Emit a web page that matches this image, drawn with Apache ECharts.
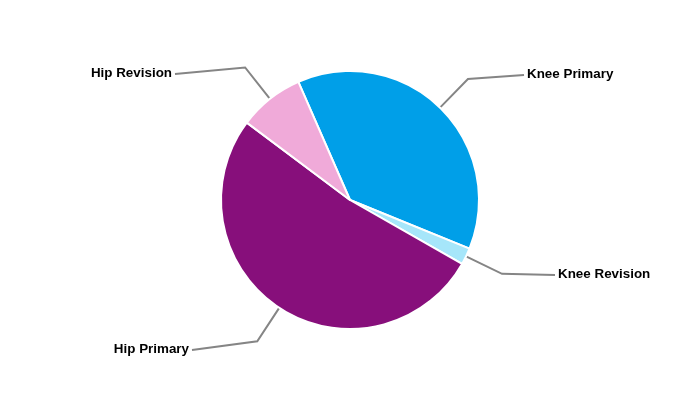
<!DOCTYPE html>
<html>
<head>
<meta charset="utf-8">
<script src="https://cdn.jsdelivr.net/npm/echarts@6/dist/echarts.min.js"></script>
<style>
  html, body { margin: 0; padding: 0; background: #fff; }
  #chart { width: 700px; height: 400px; }
</style>
</head>
<body>
<div id="chart"></div>
<script>
// ---- data ----
const categories = ['Knee Primary', 'Knee Revision', 'Hip Primary', 'Hip Revision'];
const values = [37.7, 2.1, 52.0, 8.2];
const colors = ['#009FE8', '#A6E6FA', '#870F7B', '#F0AAD9'];

const chart = echarts.init(document.getElementById('chart'));

// label placement (layout, not data)
const labelPlacement = {
  'Knee Primary':  { x: 527, y: 74,  align: 'left'  },
  'Knee Revision': { x: 558, y: 274, align: 'left'  },
  'Hip Primary':   { x: 189, y: 349, align: 'right' },
  'Hip Revision':  { x: 172, y: 73,  align: 'right' }
};
const lineLen1 = 40;

const option = {
  animation: false,
  backgroundColor: '#ffffff',
  series: [{
    type: 'pie',
    center: ['50%', '50%'],
    radius: 129,
    startAngle: 113.6,
    clockwise: true,
    avoidLabelOverlap: false,
    data: categories.map((c, i) => ({ name: c, value: values[i], itemStyle: { color: colors[i] } })),
    itemStyle: { borderColor: '#ffffff', borderWidth: 2 },
    label: {
      show: true,
      position: 'outside',
      formatter: '{b}',
      color: '#000000',
      fontFamily: 'Liberation Sans, Arial, sans-serif',
      fontWeight: 'bold',
      fontSize: 13.4
    },
    labelLine: {
      show: true,
      length: lineLen1,
      length2: 0,
      lineStyle: { color: '#858585', width: 2 }
    },
    labelLayout: function (params) {
      const name = categories[params.dataIndex];
      const p = labelPlacement[name];
      const pts = params.labelLinePoints;
      const cx = chart.getWidth() / 2, cy = chart.getHeight() / 2;
      const p0 = pts[0];
      const dx = p0[0] - cx, dy = p0[1] - cy;
      const d = Math.sqrt(dx * dx + dy * dy);
      const p1 = [cx + dx / d * (d + lineLen1), cy + dy / d * (d + lineLen1)];
      const endX = p.align === 'left' ? p.x - 3 : p.x + 3;
      return {
        x: p.x,
        y: p.y,
        align: p.align,
        verticalAlign: 'middle',
        labelLinePoints: [p0, p1, [endX, p.y + 1]]
      };
    }
  }]
};
chart.setOption(option);
</script>
</body>
</html>
